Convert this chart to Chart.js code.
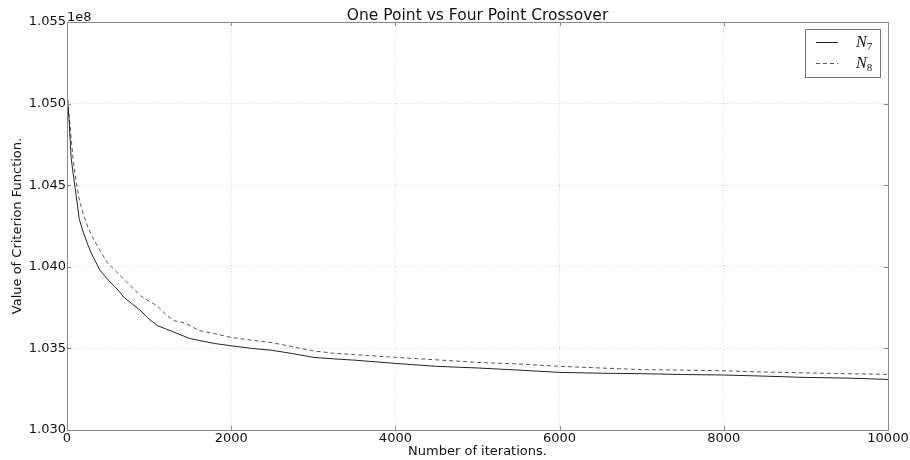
<!DOCTYPE html>
<html>
<head>
<meta charset="utf-8">
<title>One Point vs Four Point Crossover</title>
<script src="https://cdn.jsdelivr.net/npm/chart.js@4.4.1/dist/chart.umd.min.js"></script>
<style>
  body { margin: 0; background: #fff; }
  #crossChart { display: block; }
</style>
</head>
<body>
<canvas id="crossChart" width="910" height="460"></canvas>
<script>
// iterations
const iterations = [0, 25, 50, 75, 100, 150, 200, 250, 300, 400, 500, 600, 700, 800, 900,
    1000, 1100, 1200, 1300, 1400, 1500, 1600, 1800, 2000, 2250, 2500, 2750, 3000, 3250,
    3500, 4000, 4500, 5000, 5500, 6000, 6500, 7000, 7500, 8000, 8500, 9000, 9500, 10000];

// criterion value, in units of 1e8
const n7Values = [1.0507, 1.0490, 1.0467, 1.0457, 1.0448, 1.0429, 1.0421, 1.0414, 1.0408, 1.0398, 1.0392,
    1.0387, 1.0381, 1.0377, 1.0373, 1.0368, 1.0364, 1.0362, 1.0360, 1.0358, 1.0356, 1.0355, 1.0353,
    1.03516, 1.0350, 1.03488, 1.03468, 1.03445, 1.03436, 1.03428, 1.03408, 1.0339, 1.0338, 1.03367,
    1.03353, 1.03348, 1.03345, 1.0334, 1.03337, 1.0333, 1.03322, 1.03318, 1.0331];
const n8Values = [1.0507, 1.0493, 1.0479, 1.0466, 1.0456, 1.0441, 1.0432, 1.0425, 1.0419, 1.0410, 1.0402,
    1.0397, 1.0392, 1.0387, 1.0382, 1.0379, 1.0376, 1.0371, 1.0367, 1.0366, 1.0364, 1.0361, 1.0359,
    1.03567, 1.0355, 1.03535, 1.0351, 1.03485, 1.0347, 1.03462, 1.03445, 1.0343, 1.03414, 1.03405,
    1.0339, 1.0338, 1.0337, 1.03367, 1.03363, 1.03355, 1.0335, 1.03345, 1.03341];

const scaleFactor = 1e8;
const yTicks = [1.030, 1.035, 1.040, 1.045, 1.050, 1.055];
const xTicks = [0, 2000, 4000, 6000, 8000, 10000];
const seriesNames = ['7', '8']; // subscripts of N

function toPoints(values) {
    return iterations.map((it, i) => ({ x: it, y: values[i] * scaleFactor }));
}

const tickFont = { family: 'DejaVu Sans', size: 13 };
const labelFont = { family: 'DejaVu Sans', size: 13 };

// frame, inward ticks, title, offset text and legend, matplotlib style
const decorPlugin = {
    id: 'decor',
    afterDatasetsDraw(chart) {
        const { ctx, chartArea: a, scales } = chart;
        ctx.save();
        ctx.strokeStyle = '#888';
        ctx.lineWidth = 1;
        ctx.strokeRect(a.left + 0.5, a.top + 0.5, a.right - a.left, a.bottom - a.top);

        ctx.beginPath();
        xTicks.forEach((t) => {
            const px = Math.round(scales.x.getPixelForValue(t)) + 0.5;
            ctx.moveTo(px, a.bottom); ctx.lineTo(px, a.bottom - 4);
            ctx.moveTo(px, a.top); ctx.lineTo(px, a.top + 4);
        });
        yTicks.forEach((t) => {
            const py = Math.round(scales.y.getPixelForValue(t * scaleFactor)) + 0.5;
            ctx.moveTo(a.left, py); ctx.lineTo(a.left + 4, py);
            ctx.moveTo(a.right, py); ctx.lineTo(a.right - 4, py);
        });
        ctx.stroke();

        // title
        ctx.fillStyle = '#111';
        ctx.font = '15.5px "DejaVu Sans"';
        ctx.textAlign = 'center';
        ctx.textBaseline = 'alphabetic';
        ctx.fillText('One Point vs Four Point Crossover', (a.left + a.right) / 2, 20);

        // axis offset text
        ctx.font = '13px "DejaVu Sans"';
        ctx.textAlign = 'left';
        ctx.fillText('1e8', a.left, 21);

        // legend
        const boxW = 75, boxH = 48;
        const bx = a.right - 8 - boxW, by = a.top + 7;
        ctx.fillStyle = '#fff';
        ctx.fillRect(bx, by, boxW, boxH);
        ctx.strokeStyle = '#777';
        ctx.strokeRect(bx + 0.5, by + 0.5, boxW, boxH);
        chart.data.datasets.forEach((ds, i) => {
            const ly = by + 13 + i * 21;
            ctx.strokeStyle = ds.borderColor;
            ctx.lineWidth = 1;
            ctx.setLineDash(ds.borderDash || []);
            ctx.beginPath();
            ctx.moveTo(bx + 11, ly + 0.5);
            ctx.lineTo(bx + 33, ly + 0.5);
            ctx.stroke();
            ctx.setLineDash([]);
            ctx.fillStyle = '#111';
            ctx.textBaseline = 'alphabetic';
            ctx.font = 'italic 16px "Liberation Serif"';
            ctx.fillText('N', bx + 51, ly + 5);
            const w = ctx.measureText('N').width;
            ctx.font = '11px "Liberation Serif"';
            ctx.fillText(seriesNames[i], bx + 51 + w, ly + 8);
        });
        ctx.restore();
    }
};

const ctx = document.getElementById('crossChart').getContext('2d');
const crossChart = new Chart(ctx, {
    type: 'line',
    data: {
        datasets: [{
            label: 'N7',
            data: toPoints(n7Values),
            borderColor: '#222',
            borderWidth: 1,
            pointRadius: 0,
            tension: 0
        }, {
            label: 'N8',
            data: toPoints(n8Values),
            borderColor: '#555',
            borderWidth: 1,
            borderDash: [4, 3],
            pointRadius: 0,
            tension: 0
        }]
    },
    options: {
        responsive: false,
        animation: false,
        layout: { padding: { top: 22, right: 22, left: 0, bottom: 0 } },
        plugins: {
            legend: { display: false },
            tooltip: { enabled: false }
        },
        scales: {
            x: {
                type: 'linear',
                min: 0,
                max: 10000,
                afterFit: (s) => { s.height = 30; },
                afterBuildTicks: (s) => { s.ticks = xTicks.map((v) => ({ value: v })); },
                ticks: { font: tickFont, color: '#111', padding: 1, maxRotation: 0, callback: (v) => String(v) },
                grid: { color: '#d4d4d4', drawTicks: false },
                border: { display: false, dash: [1, 2] },
                title: { display: true, text: 'Number of iterations.', font: labelFont, color: '#111', padding: { top: 0, bottom: 1 } }
            },
            y: {
                min: yTicks[0] * scaleFactor,
                max: yTicks[yTicks.length - 1] * scaleFactor,
                afterFit: (s) => { s.width = 67; },
                afterBuildTicks: (s) => { s.ticks = yTicks.map((v) => ({ value: v * scaleFactor })); },
                ticks: {
                    font: tickFont, color: '#111', padding: 1,
                    callback: (v) => (v / scaleFactor).toFixed(3)
                },
                grid: { color: '#d4d4d4', drawTicks: false },
                border: { display: false, dash: [1, 2] },
                title: { display: true, text: 'Value of Criterion Function.', font: labelFont, color: '#111', padding: { top: 10, bottom: 0 } }
            }
        }
    },
    plugins: [decorPlugin]
});
</script>
</body>
</html>
